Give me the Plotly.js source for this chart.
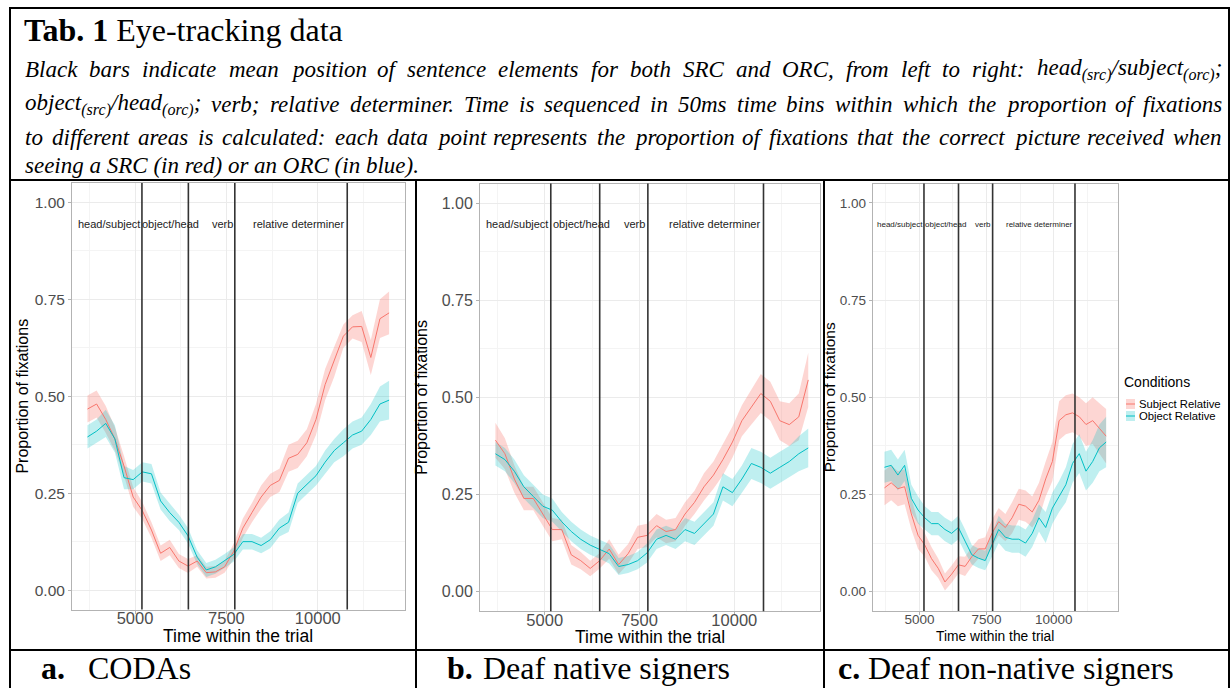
<!DOCTYPE html>
<html><head><meta charset="utf-8">
<script src="https://cdn.plot.ly/plotly-3.0.1.min.js"></script>
<style>html,body{margin:0;padding:0;background:#fff}#chart{width:1230px;height:688px}</style>
</head><body><div id="chart"></div>
<script>
// ---------------- DATA ----------------
const time = [3700,3950,4200,4450,4700,4950,5200,5450,5700,5950,6200,6450,6700,6950,7200,7450,7700,7950,8200,8450,8700,8950,9200,9450,9700,9950,10200,10450,10700,10950,11200,11450,11700,11950];

// Panel a: CODAs
const srcA = [0.467,0.48,0.44,0.39,0.32,0.24,0.205,0.155,0.095,0.11,0.075,0.062,0.075,0.045,0.047,0.06,0.10,0.16,0.20,0.24,0.27,0.283,0.34,0.35,0.38,0.44,0.53,0.59,0.655,0.679,0.68,0.60,0.70,0.715];
const orcA = [0.395,0.41,0.43,0.39,0.29,0.285,0.305,0.30,0.23,0.20,0.175,0.14,0.085,0.052,0.06,0.075,0.092,0.125,0.125,0.115,0.13,0.16,0.175,0.25,0.272,0.295,0.33,0.36,0.38,0.40,0.41,0.44,0.48,0.49];
const srcA_se = [0.035,0.035,0.035,0.03,0.025,0.025,0.022,0.02,0.02,0.02,0.018,0.018,0.015,0.015,0.015,0.015,0.02,0.025,0.025,0.03,0.03,0.03,0.035,0.035,0.035,0.04,0.04,0.04,0.03,0.03,0.04,0.045,0.05,0.055];
const orcA_se = [0.03,0.03,0.035,0.035,0.03,0.025,0.025,0.025,0.022,0.022,0.02,0.02,0.018,0.018,0.018,0.018,0.018,0.02,0.02,0.02,0.022,0.022,0.025,0.025,0.025,0.025,0.03,0.03,0.035,0.035,0.035,0.04,0.045,0.05];

// Panel b: Deaf native signers
const srcB = [0.39,0.355,0.29,0.24,0.24,0.20,0.16,0.16,0.095,0.08,0.06,0.08,0.11,0.07,0.098,0.14,0.145,0.17,0.155,0.16,0.20,0.23,0.27,0.30,0.34,0.385,0.44,0.475,0.51,0.49,0.44,0.43,0.45,0.545];
const orcB = [0.355,0.34,0.31,0.27,0.245,0.22,0.21,0.18,0.155,0.135,0.12,0.11,0.098,0.065,0.07,0.08,0.10,0.135,0.145,0.135,0.16,0.15,0.175,0.20,0.27,0.255,0.29,0.33,0.32,0.305,0.32,0.335,0.355,0.37];
const srcB_se = [0.045,0.04,0.035,0.03,0.03,0.03,0.03,0.025,0.025,0.022,0.02,0.02,0.025,0.025,0.025,0.03,0.03,0.03,0.03,0.03,0.03,0.03,0.035,0.035,0.04,0.04,0.04,0.045,0.05,0.05,0.05,0.055,0.06,0.07];
const orcB_se = [0.03,0.03,0.03,0.03,0.03,0.03,0.03,0.025,0.025,0.025,0.025,0.025,0.025,0.022,0.022,0.022,0.025,0.025,0.025,0.025,0.03,0.03,0.03,0.03,0.035,0.035,0.035,0.04,0.04,0.04,0.04,0.04,0.045,0.05];

// Panel c: Deaf non-native signers
const srcC = [0.267,0.28,0.265,0.27,0.20,0.145,0.12,0.085,0.06,0.025,0.045,0.069,0.065,0.09,0.11,0.11,0.15,0.18,0.165,0.19,0.225,0.22,0.205,0.235,0.29,0.335,0.44,0.455,0.46,0.45,0.43,0.44,0.42,0.40];
const orcC = [0.32,0.325,0.30,0.325,0.24,0.21,0.19,0.175,0.175,0.16,0.15,0.165,0.13,0.095,0.086,0.08,0.12,0.16,0.14,0.135,0.135,0.125,0.15,0.19,0.165,0.215,0.245,0.275,0.33,0.355,0.31,0.335,0.37,0.385];
const srcC_se = [0.045,0.045,0.045,0.045,0.04,0.035,0.03,0.03,0.025,0.022,0.022,0.022,0.025,0.025,0.025,0.03,0.035,0.035,0.035,0.04,0.04,0.04,0.04,0.045,0.045,0.05,0.05,0.05,0.05,0.05,0.055,0.06,0.065,0.07];
const orcC_se = [0.04,0.04,0.04,0.04,0.035,0.035,0.03,0.03,0.03,0.03,0.03,0.03,0.03,0.025,0.025,0.025,0.03,0.035,0.035,0.035,0.035,0.035,0.035,0.035,0.04,0.04,0.04,0.045,0.05,0.05,0.05,0.055,0.06,0.065];

// Mean positions of sentence elements (black bars)
const barsA = [5190,6460,7730,10805];
const barsB = [5160,6450,7720,10770];
const barsC = [5170,6455,7725,10790];
const segmentLabels = ['head/subject','object/head','verb','relative determiner'];
const segmentLabelTimes = [4280,5960,7380,9475];
const segmentLabelY = 0.945;

const conditions = ['Subject Relative','Object Relative'];
const legendTitle = 'Conditions';
const xTickVals = [5000,7500,10000];
const xTickText = ['5000','7500','10000'];
const xMinorVals = [3750,6250,8750,11250];
const yTickVals = [0,0.25,0.5,0.75,1];
const yTickText = ['0.00','0.25','0.50','0.75','1.00'];
const yMinorVals = [0.125,0.375,0.625,0.875];
const xTitle = 'Time within the trial';
const yTitle = 'Proportion of fixations';

const panelLetters = ['a.','b.','c.'];
const panelNames = ['CODAs','Deaf native signers','Deaf non-native signers'];

const tableTitleBold = 'Tab. 1';
const tableTitle = 'Eye-tracking data';
const captionLines = [
  'Black bars indicate mean position of sentence elements for both SRC and ORC, from left to right: head<sub>(src)</sub>/subject<sub>(orc)</sub>;',
  'object<sub>(src)</sub>/head<sub>(orc)</sub>; verb; relative determiner. Time is sequenced in 50ms time bins within which the proportion of fixations',
  'to different areas is calculated: each data point represents the proportion of fixations that the correct picture received when',
  'seeing a SRC (in red) or an ORC (in blue).'
];

// ---------------- LAYOUT HELPERS ----------------
const W = 1230, H = 688;
const px = x => x / W;
const py = y => 1 - y / H;
const RED = '#F8766D', BLUE = '#00BFC4';
const RED_F = 'rgba(248,118,109,0.30)', BLUE_F = 'rgba(0,191,196,0.25)';
const SANS = 'Liberation Sans, Arial, sans-serif';
const SERIF = 'Liberation Serif, Times New Roman, serif';

const panels = [
  {src:srcA, orc:orcA, srcSe:srcA_se, orcSe:orcA_se, bars:barsA, L:72, R:405, T:183, B:609.5, xr:[3277,12385], xtick:16.5, ytick:15.5, xttl:17.5, yttl:16, seg:11, ystand:2, xlo:-9, xtX:238, xtY:636},
  {src:srcB, orc:orcB, srcSe:srcB_se, orcSe:orcB_se, bars:barsB, L:480, R:820, T:183.6, B:611.2, xr:[3293,12260], xtick:16.5, ytick:16, xttl:17.5, yttl:16, seg:11, ystand:10, xlo:-9, xtX:650, xtY:637},
  {src:srcC, orc:orcC, srcSe:srcC_se, orcSe:orcC_se, bars:barsC, L:872.7, R:1117.7, T:183.5, B:611.1, xr:[3262,12380], xtick:13.5, ytick:13.5, xttl:13.8, yttl:15.5, seg:8, ystand:0, xlo:-7, xtX:995, xtY:636}
];

const traces = [];
const shapes = [];
const annotations = [];
const layout = {
  width: W, height: H, margin:{l:0,r:0,t:0,b:0},
  paper_bgcolor:'#fff', plot_bgcolor:'#fff', showlegend:false,
  font:{family:SANS}
};

panels.forEach((p, i) => {
  const n = i === 0 ? '' : String(i + 1);
  const xa = 'x' + n, ya = 'y' + n;
  const band = (m, se, sign) => m.map((v, k) => v + sign * se[k]);
  const series = [[p.src, p.srcSe, RED, RED_F], [p.orc, p.orcSe, BLUE, BLUE_F]];
  series.forEach(([m, se, c, f]) => {
    traces.push({x:time, y:band(m, se, -1), xaxis:xa, yaxis:ya, mode:'lines', line:{width:0, color:c}, hoverinfo:'skip', showlegend:false});
    traces.push({x:time, y:band(m, se, 1), xaxis:xa, yaxis:ya, mode:'lines', line:{width:0, color:c}, fill:'tonexty', fillcolor:f, hoverinfo:'skip', showlegend:false});
  });
  series.forEach(([m, se, c], k) => {
    traces.push({x:time, y:m, xaxis:xa, yaxis:ya, mode:'lines', line:{width:1, color:c}, name:conditions[k], showlegend:false});
  });
  const common = {
    showline:true, mirror:true, linecolor:'#b3b3b3', linewidth:1,
    showgrid:true, gridcolor:'#ebebeb', gridwidth:1, zeroline:false,
    ticks:'outside', ticklen:3, tickcolor:'#b3b3b3', automargin:false
  };
  layout['xaxis' + n] = Object.assign({}, common, {
    domain:[px(p.L), px(p.R)], range:p.xr, anchor:ya,
    tickfont:{family:SANS, size:p.xtick, color:'#4d4d4d'},
    tickmode:'array', tickvals:xTickVals, ticktext:xTickText, ticklabelstandoff:p.xlo,
    minor:{tickmode:'array', tickvals:xMinorVals, showgrid:true, gridcolor:'#f4f4f4', gridwidth:1, ticks:''}
  });
  layout['yaxis' + n] = Object.assign({}, common, {
    domain:[py(p.B), py(p.T)], range:[-0.05,1.05], anchor:xa,
    tickfont:{family:SANS, size:p.ytick, color:'#4d4d4d'},
    tickmode:'array', tickvals:yTickVals, ticktext:yTickText,
    minor:{tickmode:'array', tickvals:yMinorVals, showgrid:true, gridcolor:'#f4f4f4', gridwidth:1, ticks:''},
    title:{text:yTitle, font:{family:SANS, size:p.yttl, color:'#000'}, standoff:p.ystand}
  });
  // x-axis title
  annotations.push({xref:'paper', yref:'paper', x:px(p.xtX), y:py(p.xtY), xanchor:'center', yanchor:'middle', showarrow:false, borderpad:0, borderwidth:0,
    text:xTitle, font:{family:SANS, size:p.xttl, color:'#000'}});
  p.bars.forEach(b => shapes.push({type:'line', xref:xa, yref:ya + ' domain', x0:b, x1:b, y0:0, y1:1, line:{color:'#333', width:1.6}}));
  segmentLabels.forEach((s, k) => annotations.push({xref:xa, yref:ya, x:segmentLabelTimes[k], y:segmentLabelY, text:s, showarrow:false, font:{family:SANS, size:p.seg, color:'#222'}}));
});

// Legend (panel c)
annotations.push({xref:'paper', yref:'paper', x:px(1124), y:py(382), xanchor:'left', yanchor:'middle', text:legendTitle, showarrow:false, font:{family:SANS, size:14, color:'#000'}, borderpad:0, borderwidth:0});
[[RED, RED_F, 404], [BLUE, BLUE_F, 416]].forEach(([c, f, yc], k) => {
  shapes.push({type:'rect', xref:'paper', yref:'paper', x0:px(1126), x1:px(1135), y0:py(yc - 5), y1:py(yc + 5), fillcolor:f, line:{width:0}});
  shapes.push({type:'line', xref:'paper', yref:'paper', x0:px(1126), x1:px(1135), y0:py(yc), y1:py(yc), line:{color:c, width:1}});
  annotations.push({xref:'paper', yref:'paper', x:px(1139), y:py(yc), xanchor:'left', yanchor:'middle', text:conditions[k], showarrow:false, font:{family:SANS, size:11.3, color:'#000'}, borderpad:0, borderwidth:0});
});

// Table borders
const hline = (y, x0, x1) => shapes.push({type:'line', xref:'paper', yref:'paper', x0:px(x0), x1:px(x1), y0:py(y), y1:py(y), line:{color:'#000', width:2}});
const vline = (x, y0, y1) => shapes.push({type:'line', xref:'paper', yref:'paper', x0:px(x), x1:px(x), y0:py(y0), y1:py(y1), line:{color:'#000', width:2}});
hline(8, 9, 1230); hline(180, 9, 1230); hline(650, 9, 1230);
vline(10, 7, 688); vline(1229, 7, 688); vline(416, 180, 688); vline(824, 180, 688);

// Caption
annotations.push({xref:'paper', yref:'paper', x:px(24), y:py(30), xanchor:'left', yanchor:'middle', showarrow:false, borderpad:0, borderwidth:0,
  text:'<b>' + tableTitleBold + '</b> ' + tableTitle, font:{family:SERIF, size:32, color:'#000'}});

const CAP_SIZE = 23, CAP_L = 25, CAP_R = 1222;
const capY = [70, 104, 137, 165];
const ctx = document.createElement('canvas').getContext('2d');
function measure(html, size) {
  let w = 0;
  html.split(/(<sub>.*?<\/sub>)/).forEach(part => {
    if (!part) return;
    const sub = part.startsWith('<sub>');
    ctx.font = 'italic ' + (sub ? size * 0.7 : size) + 'px "Liberation Serif"';
    w += ctx.measureText(part.replace(/<[^>]+>/g, '')).width;
  });
  return w;
}
captionLines.forEach((line, li) => {
  const y = py(capY[li]);
  if (li === captionLines.length - 1) {
    annotations.push({xref:'paper', yref:'paper', x:px(CAP_L), y:y, xanchor:'left', yanchor:'middle', showarrow:false, borderpad:0, borderwidth:0,
      text:'<i>' + line + '</i>', font:{family:SERIF, size:CAP_SIZE, color:'#000'}});
    return;
  }
  const words = line.split(' ');
  const ws = words.map(w => measure(w, CAP_SIZE));
  const total = ws.reduce((a, b) => a + b, 0);
  const gap = (CAP_R - CAP_L - total) / (words.length - 1);
  let x = CAP_L;
  words.forEach((w, k) => {
    annotations.push({xref:'paper', yref:'paper', x:px(x), y:y, xanchor:'left', yanchor:'middle', showarrow:false, borderpad:0, borderwidth:0,
      text:'<i>' + w + '</i>', font:{family:SERIF, size:CAP_SIZE, color:'#000'}});
    x += ws[k] + gap;
  });
});

// Panel labels (bottom row)
const letterX = [41, 447, 838], nameX = [88, 483, 868];
panelLetters.forEach((l, k) => {
  annotations.push({xref:'paper', yref:'paper', x:px(letterX[k]), y:py(668), xanchor:'left', yanchor:'middle', showarrow:false, borderpad:0, borderwidth:0,
    text:'<b>' + l + '</b>', font:{family:SERIF, size:32, color:'#000'}});
  annotations.push({xref:'paper', yref:'paper', x:px(nameX[k]), y:py(668), xanchor:'left', yanchor:'middle', showarrow:false, borderpad:0, borderwidth:0,
    text:panelNames[k], font:{family:SERIF, size:32, color:'#000'}});
});

layout.shapes = shapes;
layout.annotations = annotations;
Plotly.newPlot('chart', traces, layout, {staticPlot:true});
</script>
</body></html>
